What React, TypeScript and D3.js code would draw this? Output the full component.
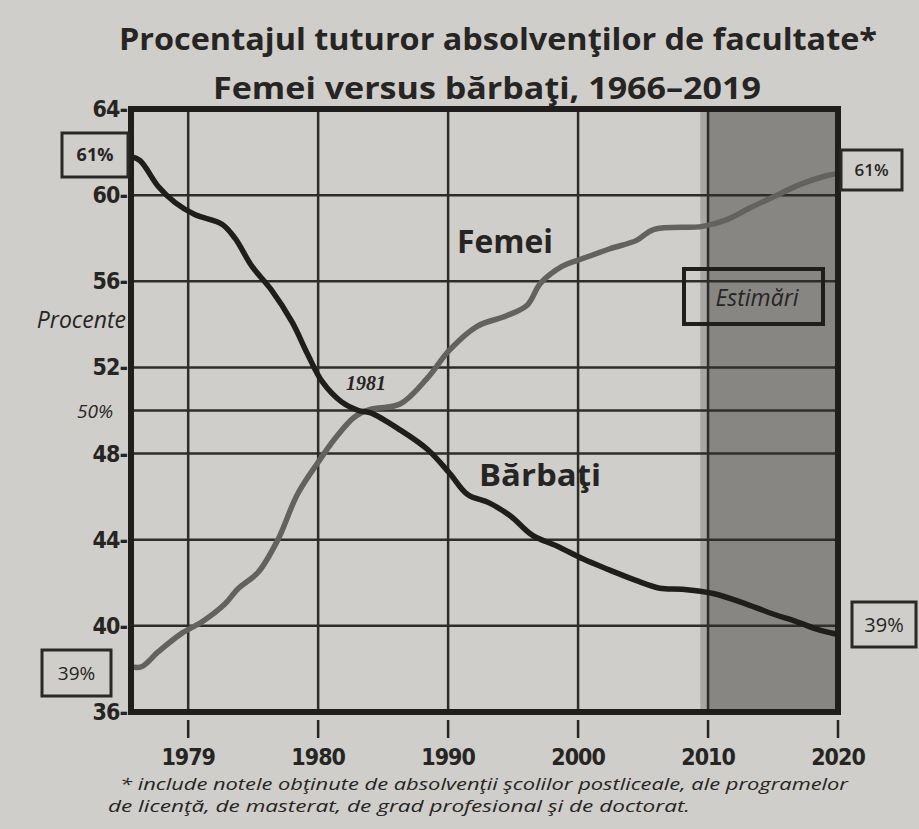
import React, { useRef, useEffect } from 'react';
import * as d3 from 'd3';

// values (percent of all college graduates)
const femeiYears = [1965.6, 1966.4, 1967.7, 1969.5, 1971.1, 1972.8, 1973.8, 1975.4, 1976.9, 1978.4, 1980.0, 1981.3, 1982.8, 1984.0, 1986.3, 1988.4, 1990.1, 1992.2, 1994.5, 1996.1, 1997.1, 1998.8, 2000.1, 2002.4, 2004.5, 2005.8, 2009.6, 2011.4, 2013.2, 2015.3, 2017.1, 2019.1, 2020];
const femeiValues = [38.1, 38.1, 38.8, 39.65, 40.2, 41.0, 41.7, 42.5, 44.0, 46.1, 47.6, 48.7, 49.7, 50.05, 50.3, 51.5, 52.8, 53.9, 54.4, 54.9, 55.9, 56.7, 57.0, 57.5, 57.9, 58.4, 58.55, 58.85, 59.4, 60.0, 60.5, 60.9, 61.0];

const barbatiYears = [1965.6, 1966.3, 1967.7, 1969.0, 1970.5, 1972.6, 1973.6, 1974.9, 1976.4, 1978.0, 1979.2, 1980.3, 1981.8, 1983.1, 1984.0, 1986.3, 1988.4, 1990.1, 1991.5, 1993.2, 1994.8, 1996.5, 1998.4, 2000.4, 2002.4, 2004.5, 2006.3, 2008.0, 2010.4, 2013.0, 2015.0, 2016.8, 2018.6, 2020];
const barbatiValues = [61.8, 61.6, 60.4, 59.65, 59.1, 58.65, 58.0, 56.7, 55.6, 54.1, 52.6, 51.35, 50.4, 50.0, 49.9, 49.1, 48.2, 47.1, 46.1, 45.7, 45.1, 44.2, 43.7, 43.1, 42.6, 42.1, 41.75, 41.7, 41.5, 41.0, 40.55, 40.2, 39.8, 39.6];

const yTicks = [64, 60, 56, 52, 48, 44, 40, 36];
const yGrid = [60, 56, 52, 50, 48, 44, 40];
const xTicks = [1970, 1980, 1990, 2000, 2010, 2020];
const xTickLabels = ['1979', '1980', '1990', '2000', '2010', '2020'];
const xGrid = [1970, 1980, 1990, 2000, 2010];
const estimateStart = 2009.4;
const estimateDark = 2010;

const W = 919;
const H = 829;
const paper = '#d0cecA';
const ink = '#262523';
const condensed = "'Liberation Sans Narrow', 'DejaVu Sans Condensed', 'DejaVu Sans', sans-serif";
const sans = "'Open Sans', 'Noto Sans', sans-serif";

const App = () => {
  const svgRef = useRef<SVGSVGElement>(null);

  useEffect(() => {
    const svg = d3.select(svgRef.current);
    svg.selectAll('*').remove();

    const x = d3.scaleLinear().domain([1965.6, 2020]).range([131, 838]);
    const y = d3.scaleLinear().domain([36, 64]).range([712, 109]);
    const [x0, x1] = x.range();
    const [y0, y1] = y.range();

    svg.append('rect').attr('width', W).attr('height', H).attr('fill', paper);

    // titles
    svg.append('text').attr('x', 498).attr('y', 50).attr('text-anchor', 'middle')
      .attr('font-family', sans).attr('font-weight', 700).attr('font-size', 31).attr('fill', ink)
      .attr('textLength', 758).attr('lengthAdjust', 'spacingAndGlyphs')
      .text('Procentajul tuturor absolvenţilor de facultate*');
    svg.append('text').attr('x', 487).attr('y', 99).attr('text-anchor', 'middle')
      .attr('font-family', sans).attr('font-weight', 700).attr('font-size', 31).attr('fill', ink)
      .attr('textLength', 548).attr('lengthAdjust', 'spacingAndGlyphs')
      .text('Femei versus bărbaţi, 1966–2019');

    // estimate shading
    svg.append('rect').attr('x', x(estimateStart)).attr('y', y1).attr('width', x(estimateDark) - x(estimateStart))
      .attr('height', y0 - y1).attr('fill', '#a9a7a3');
    svg.append('rect').attr('x', x(estimateDark)).attr('y', y1).attr('width', x1 - x(estimateDark))
      .attr('height', y0 - y1).attr('fill', '#878683');

    const g = svg.append('g');
    g.selectAll('.hgrid').data(yGrid).enter().append('line')
      .attr('x1', x0).attr('x2', x1).attr('y1', d => y(d)).attr('y2', d => y(d))
      .attr('stroke', '#2e2d2b').attr('stroke-width', 2.5);
    g.selectAll('.vgrid').data(xGrid).enter().append('line')
      .attr('x1', d => x(d)).attr('x2', d => x(d)).attr('y1', y1).attr('y2', y0)
      .attr('stroke', '#2e2d2b').attr('stroke-width', 2.5);

    // lines
    const femei = femeiYears.map((yr, i) => [yr, femeiValues[i]] as [number, number]);
    const barbati = barbatiYears.map((yr, i) => [yr, barbatiValues[i]] as [number, number]);
    const line = d3.line<[number, number]>().x(d => x(d[0])).y(d => y(d[1])).curve(d3.curveCatmullRom.alpha(0.5));
    svg.append('path').datum(femei).attr('d', line).attr('fill', 'none')
      .attr('stroke', '#636260').attr('stroke-width', 5.5).attr('stroke-linejoin', 'round');
    svg.append('path').datum(barbati).attr('d', line).attr('fill', 'none')
      .attr('stroke', '#1f1e1c').attr('stroke-width', 5.5).attr('stroke-linejoin', 'round');

    // frame
    svg.append('rect').attr('x', x0).attr('y', y1).attr('width', x1 - x0).attr('height', y0 - y1)
      .attr('fill', 'none').attr('stroke', '#1f1e1c').attr('stroke-width', 6);

    // y labels
    svg.selectAll('.ylab').data(yTicks).enter().append('text')
      .attr('x', x0 - 4).attr('y', d => y(d) + 8).attr('text-anchor', 'end')
      .attr('font-family', condensed).attr('font-weight', 700).attr('font-size', 23)
      .attr('fill', ink).attr('letter-spacing', -1).text(d => `${d}-`);
    svg.append('text').attr('x', x0 - 18).attr('y', y(50) + 7).attr('text-anchor', 'end')
      .attr('font-family', sans).attr('font-style', 'italic').attr('font-size', 19).attr('fill', ink)
      .text('50%');
    svg.append('text').attr('x', x0 - 5).attr('y', 328).attr('text-anchor', 'end')
      .attr('font-family', sans).attr('font-style', 'italic').attr('font-size', 23).attr('fill', ink)
      .text('Procente');

    // x ticks and labels
    svg.selectAll('.xtick').data(xTicks).enter().append('line')
      .attr('x1', d => x(d)).attr('x2', d => x(d)).attr('y1', y0 + 8).attr('y2', y0 + 26)
      .attr('stroke', ink).attr('stroke-width', 2.5);
    svg.selectAll('.xlab').data(xTicks).enter().append('text')
      .attr('x', d => x(d)).attr('y', y0 + 53).attr('text-anchor', 'middle')
      .attr('font-family', condensed).attr('font-weight', 700).attr('font-size', 23)
      .attr('fill', ink).attr('letter-spacing', -1).text((d, i) => xTickLabels[i]);

    // boxed percentage labels
    const box = (bx: number, by: number, bw: number, bh: number, label: string, weight: number, size: number) => {
      svg.append('rect').attr('x', bx).attr('y', by).attr('width', bw).attr('height', bh)
        .attr('fill', 'none').attr('stroke', '#2a2927').attr('stroke-width', 3);
      svg.append('text').attr('x', bx + bw / 2).attr('y', by + bh / 2 + size * 0.36).attr('text-anchor', 'middle')
        .attr('font-family', sans).attr('font-weight', weight).attr('font-size', size).attr('fill', ink)
        .text(label);
    };
    box(62, 133, 66, 44, '61%', 700, 18);
    box(42, 650, 69, 46, '39%', 400, 19);
    box(841, 150, 61, 40, '61%', 600, 17);
    box(852, 602, 64, 45, '39%', 400, 20);

    // Estimări box
    svg.append('rect').attr('x', 684).attr('y', 269).attr('width', 139).attr('height', 55)
      .attr('fill', 'none').attr('stroke', '#1f1e1c').attr('stroke-width', 4);
    svg.append('text').attr('x', 757).attr('y', 306).attr('text-anchor', 'middle')
      .attr('font-family', sans).attr('font-style', 'italic').attr('font-size', 23).attr('fill', ink)
      .text('Estimări');

    // series labels
    svg.append('text').attr('x', 505).attr('y', 253).attr('text-anchor', 'middle')
      .attr('font-family', sans).attr('font-weight', 700).attr('font-size', 32).attr('fill', ink)
      .attr('textLength', 96).attr('lengthAdjust', 'spacingAndGlyphs').text('Femei');
    svg.append('text').attr('x', 540).attr('y', 486).attr('text-anchor', 'middle')
      .attr('font-family', sans).attr('font-weight', 700).attr('font-size', 31).attr('fill', ink)
      .attr('textLength', 122).attr('lengthAdjust', 'spacingAndGlyphs').text('Bărbaţi');
    svg.append('text').attr('x', 366).attr('y', 390).attr('text-anchor', 'middle')
      .attr('font-family', "'Liberation Serif', serif").attr('font-weight', 700).attr('font-style', 'italic')
      .attr('font-size', 20).attr('fill', ink).text('1981');

    // footnote
    svg.append('text').attr('x', 120).attr('y', 790)
      .attr('font-family', sans).attr('font-style', 'italic').attr('font-size', 16).attr('fill', ink)
      .attr('textLength', 728).attr('lengthAdjust', 'spacingAndGlyphs')
      .text('* include notele obţinute de absolvenţii şcolilor postliceale, ale programelor');
    svg.append('text').attr('x', 108).attr('y', 812)
      .attr('font-family', sans).attr('font-style', 'italic').attr('font-size', 16).attr('fill', ink)
      .attr('textLength', 582).attr('lengthAdjust', 'spacingAndGlyphs')
      .text('de licenţă, de masterat, de grad profesional şi de doctorat.');
  }, []);

  return (
    <svg ref={svgRef} width={W} height={H} style={{ position: 'absolute', left: 0, top: 0, display: 'block' }} />
  );
};

export default App;
